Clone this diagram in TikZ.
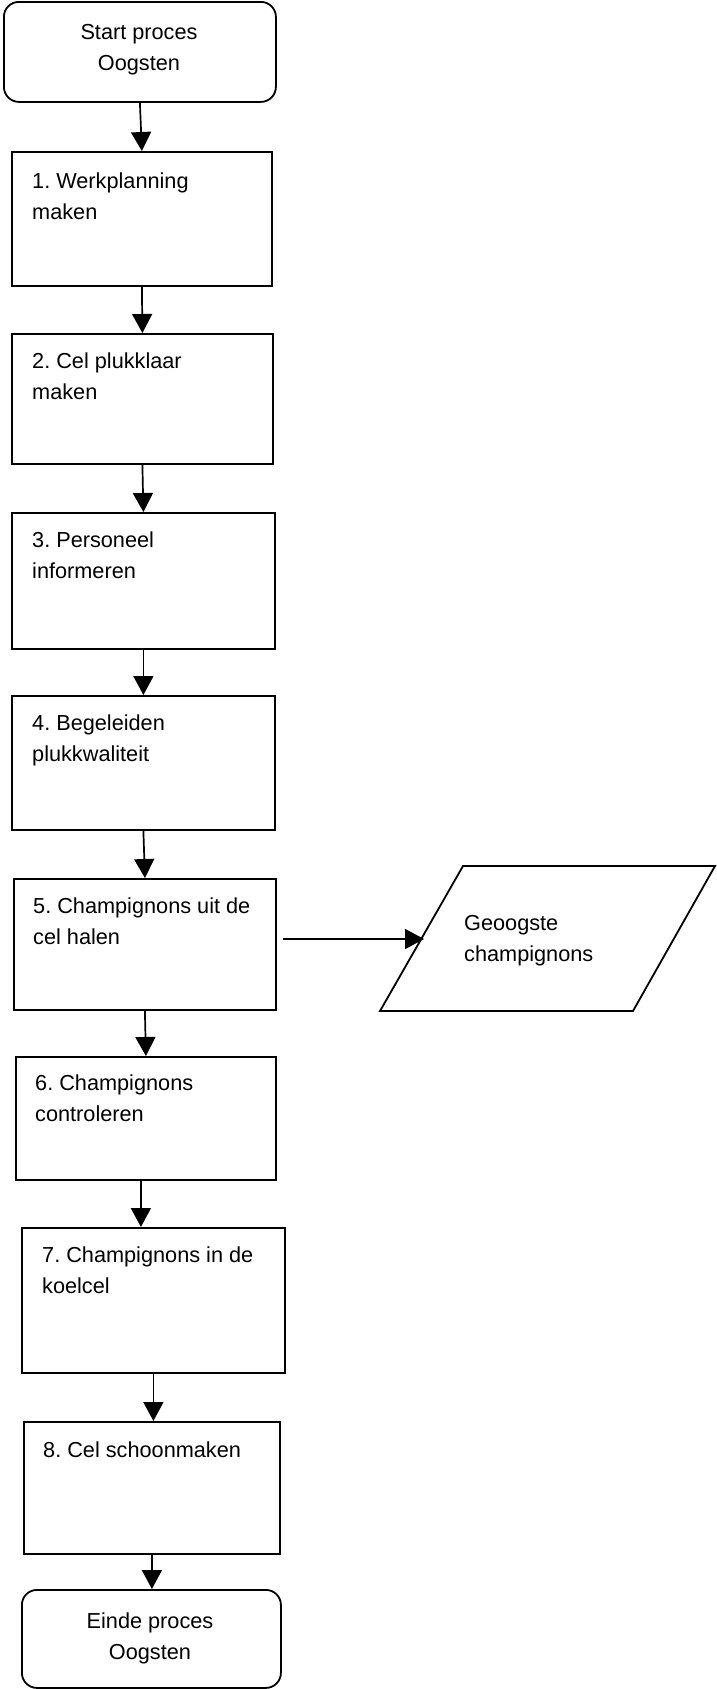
\documentclass[tikz,border=0pt]{standalone}
\usepackage{fontspec}
\setmainfont{Liberation Sans}
\usetikzlibrary{arrows.meta}
\frenchspacing
\begin{document}
\begin{tikzpicture}[x=1pt,y=-1pt,
  stepbox/.style={draw, line width=1.8pt, rectangle, inner sep=0pt, anchor=north west},
  endbox/.style={stepbox, rounded corners=15pt},
  % text nodes are placed by the baseline of their last line
  txt/.style={anchor=base west, inner sep=0pt, align=left,
    font=\fontsize{21.7}{31}\selectfont},
  ctxt/.style={txt, anchor=base, align=center},
  flow/.style={line width=1.7pt, -{Triangle[width=20pt,length=19pt]}}
]
\useasboundingbox (0,0) rectangle (716,1689);
\fill[white] (0,0) rectangle (716,1689);

% terminal and process boxes (top-left corner, width, height)
\node[endbox, minimum width=272pt, minimum height=100pt] (start) at (3,1) {};
\node[stepbox, minimum width=260pt, minimum height=134pt] (s1) at (11,151) {};
\node[stepbox, minimum width=261pt, minimum height=130pt] (s2) at (11,333) {};
\node[stepbox, minimum width=263pt, minimum height=136pt] (s3) at (11,512) {};
\node[stepbox, minimum width=263pt, minimum height=134pt] (s4) at (11,695) {};
\node[stepbox, minimum width=262pt, minimum height=131pt] (s5) at (13,878) {};
\node[stepbox, minimum width=260pt, minimum height=123pt] (s6) at (15,1056) {};
\node[stepbox, minimum width=263pt, minimum height=145pt] (s7) at (21,1227) {};
\node[stepbox, minimum width=256pt, minimum height=132pt] (s8) at (23,1421) {};
\node[endbox, minimum width=259pt, minimum height=98pt] (stop) at (21,1589) {};

% output (parallelogram)
\draw[line width=1.8pt, line join=miter] (463,866) -- (715,866) -- (633,1011) -- (380,1011) -- cycle;
\coordinate (out) at (424,939);
\coordinate (outstart) at (283,939);

% labels
\node[ctxt] (tstart) at (139,70) {Start proces\\Oogsten};
\node[txt] (t1) at (32,219) {1. Werkplanning\\maken};
\node[txt] (t2) at (32,399) {2. Cel plukklaar\\maken};
\node[txt] (t3) at (32,578) {3. Personeel\\informeren};
\node[txt] (t4) at (32,761) {4. Begeleiden\\plukkwaliteit};
\node[txt] (t5) at (33,944) {5. Champignons uit de\\cel halen};
\node[txt] (t6) at (35,1121) {6. Champignons\\controleren};
\node[txt] (t7) at (42,1293) {7. Champignons in de\\koelcel};
\node[txt] (t8) at (43,1457) {8. Cel schoonmaken};
\node[ctxt] (tstop) at (150,1659) {Einde proces\\Oogsten};
\node[txt] (tout) at (464,961) {Geoogste\\champignons};

% connectors
\draw[flow] (start.south) -- (s1.north);
\draw[flow] (s1.south) -- (s2.north);
\draw[flow] (s2.south) -- (s3.north);
\draw[flow] (s3.south) -- (s4.north);
\draw[flow] (s4.south) -- (s5.north);
\draw[flow] (s5.south) -- (s6.north);
\draw[flow] ([xshift=-5pt]s6.south) -- ([xshift=-5pt]s6.south |- s7.north);
\draw[flow] (s7.south) -- (s7.south |- s8.north);
\draw[flow] (s8.south) -- (s8.south |- stop.north);
\draw[flow] (outstart) -- (out);
\end{tikzpicture}
\end{document}
